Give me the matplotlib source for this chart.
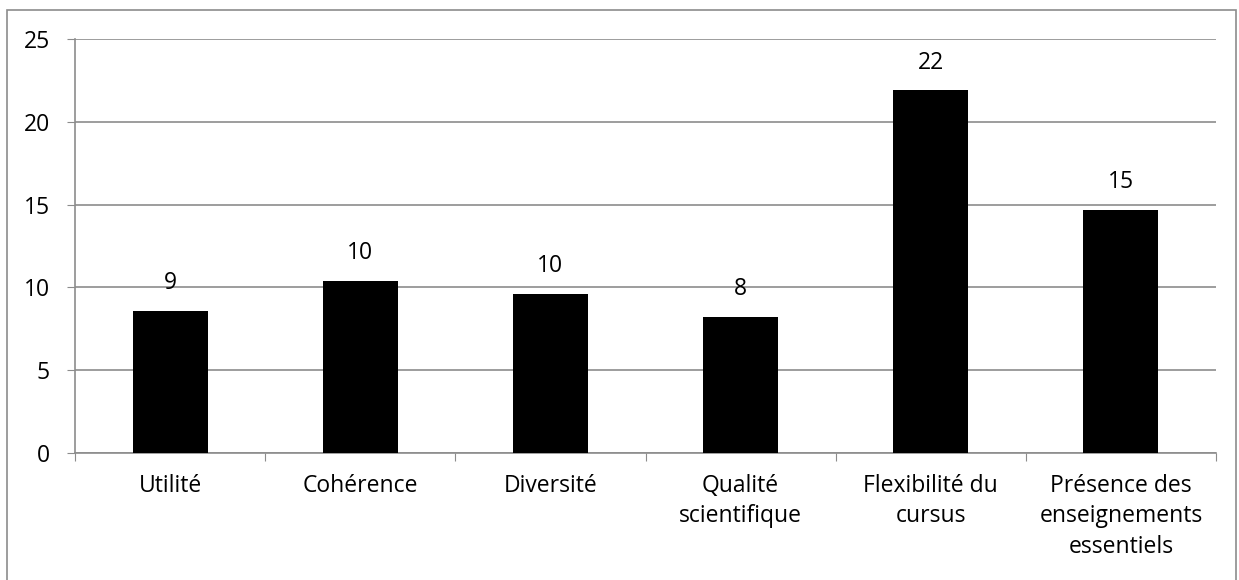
import matplotlib

matplotlib.use("Agg")
import matplotlib.pyplot as plt  # noqa: E402
from matplotlib.patches import Rectangle  # noqa: E402

categories = [
    "Utilité",
    "Cohérence",
    "Diversité",
    "Qualité\nscientifique",
    "Flexibilité du\ncursus",
    "Présence des\nenseignements\nessentiels",
]
values = [8.6, 10.4, 9.6, 8.2, 21.9, 14.7]
labels = ["9", "10", "10", "8", "22", "15"]
yticks = [0, 5, 10, 15, 20, 25]

plt.rcParams["font.family"] = ["Open Sans", "DejaVu Sans"]
W, H = 1239, 580
FS = 16.5
GRAY = "#8c8c8c"
fig = plt.figure(figsize=(W / 100, H / 100), dpi=100)

# outer chart frame
fig.patches.append(Rectangle((7 / W, -0.05), 1229 / W, 1.05 - 10 / H,
                             transform=fig.transFigure, fill=False,
                             edgecolor=GRAY, linewidth=1.2))

ax = fig.add_axes([75 / W, 1 - 453 / H, (1216 - 75) / W, (453 - 39) / H])
x = list(range(len(categories)))
ax.bar(x, values, width=0.395, color="black", zorder=3)
for xi, v, lab in zip(x, values, labels):
    ax.annotate(lab, (xi, v), xytext=(0, 20), textcoords="offset points",
                ha="center", va="center", fontsize=FS, zorder=4)

ax.set_xlim(-0.5, len(categories) - 0.5)
ax.set_ylim(0, 25)
ax.set_yticks(yticks)
ax.tick_params(axis="y", length=6, color=GRAY, labelsize=FS, pad=12)
ax.yaxis.grid(True, color=GRAY, linewidth=1.2, zorder=0)

ax.set_xticks([i - 0.5 for i in range(len(categories) + 1)], minor=False)
ax.set_xticklabels([])
ax.tick_params(axis="x", length=6, color=GRAY)
ax.set_xticks(x, minor=True)
ax.set_xticklabels(categories, minor=True, fontsize=FS, linespacing=1.36, va="top")
ax.tick_params(axis="x", which="minor", length=0, pad=15)

for side in ["top", "right"]:
    ax.spines[side].set_visible(False)
for side in ["left", "bottom"]:
    ax.spines[side].set_color(GRAY)
    ax.spines[side].set_linewidth(1.2)

fig.savefig("out.png", dpi=100)
